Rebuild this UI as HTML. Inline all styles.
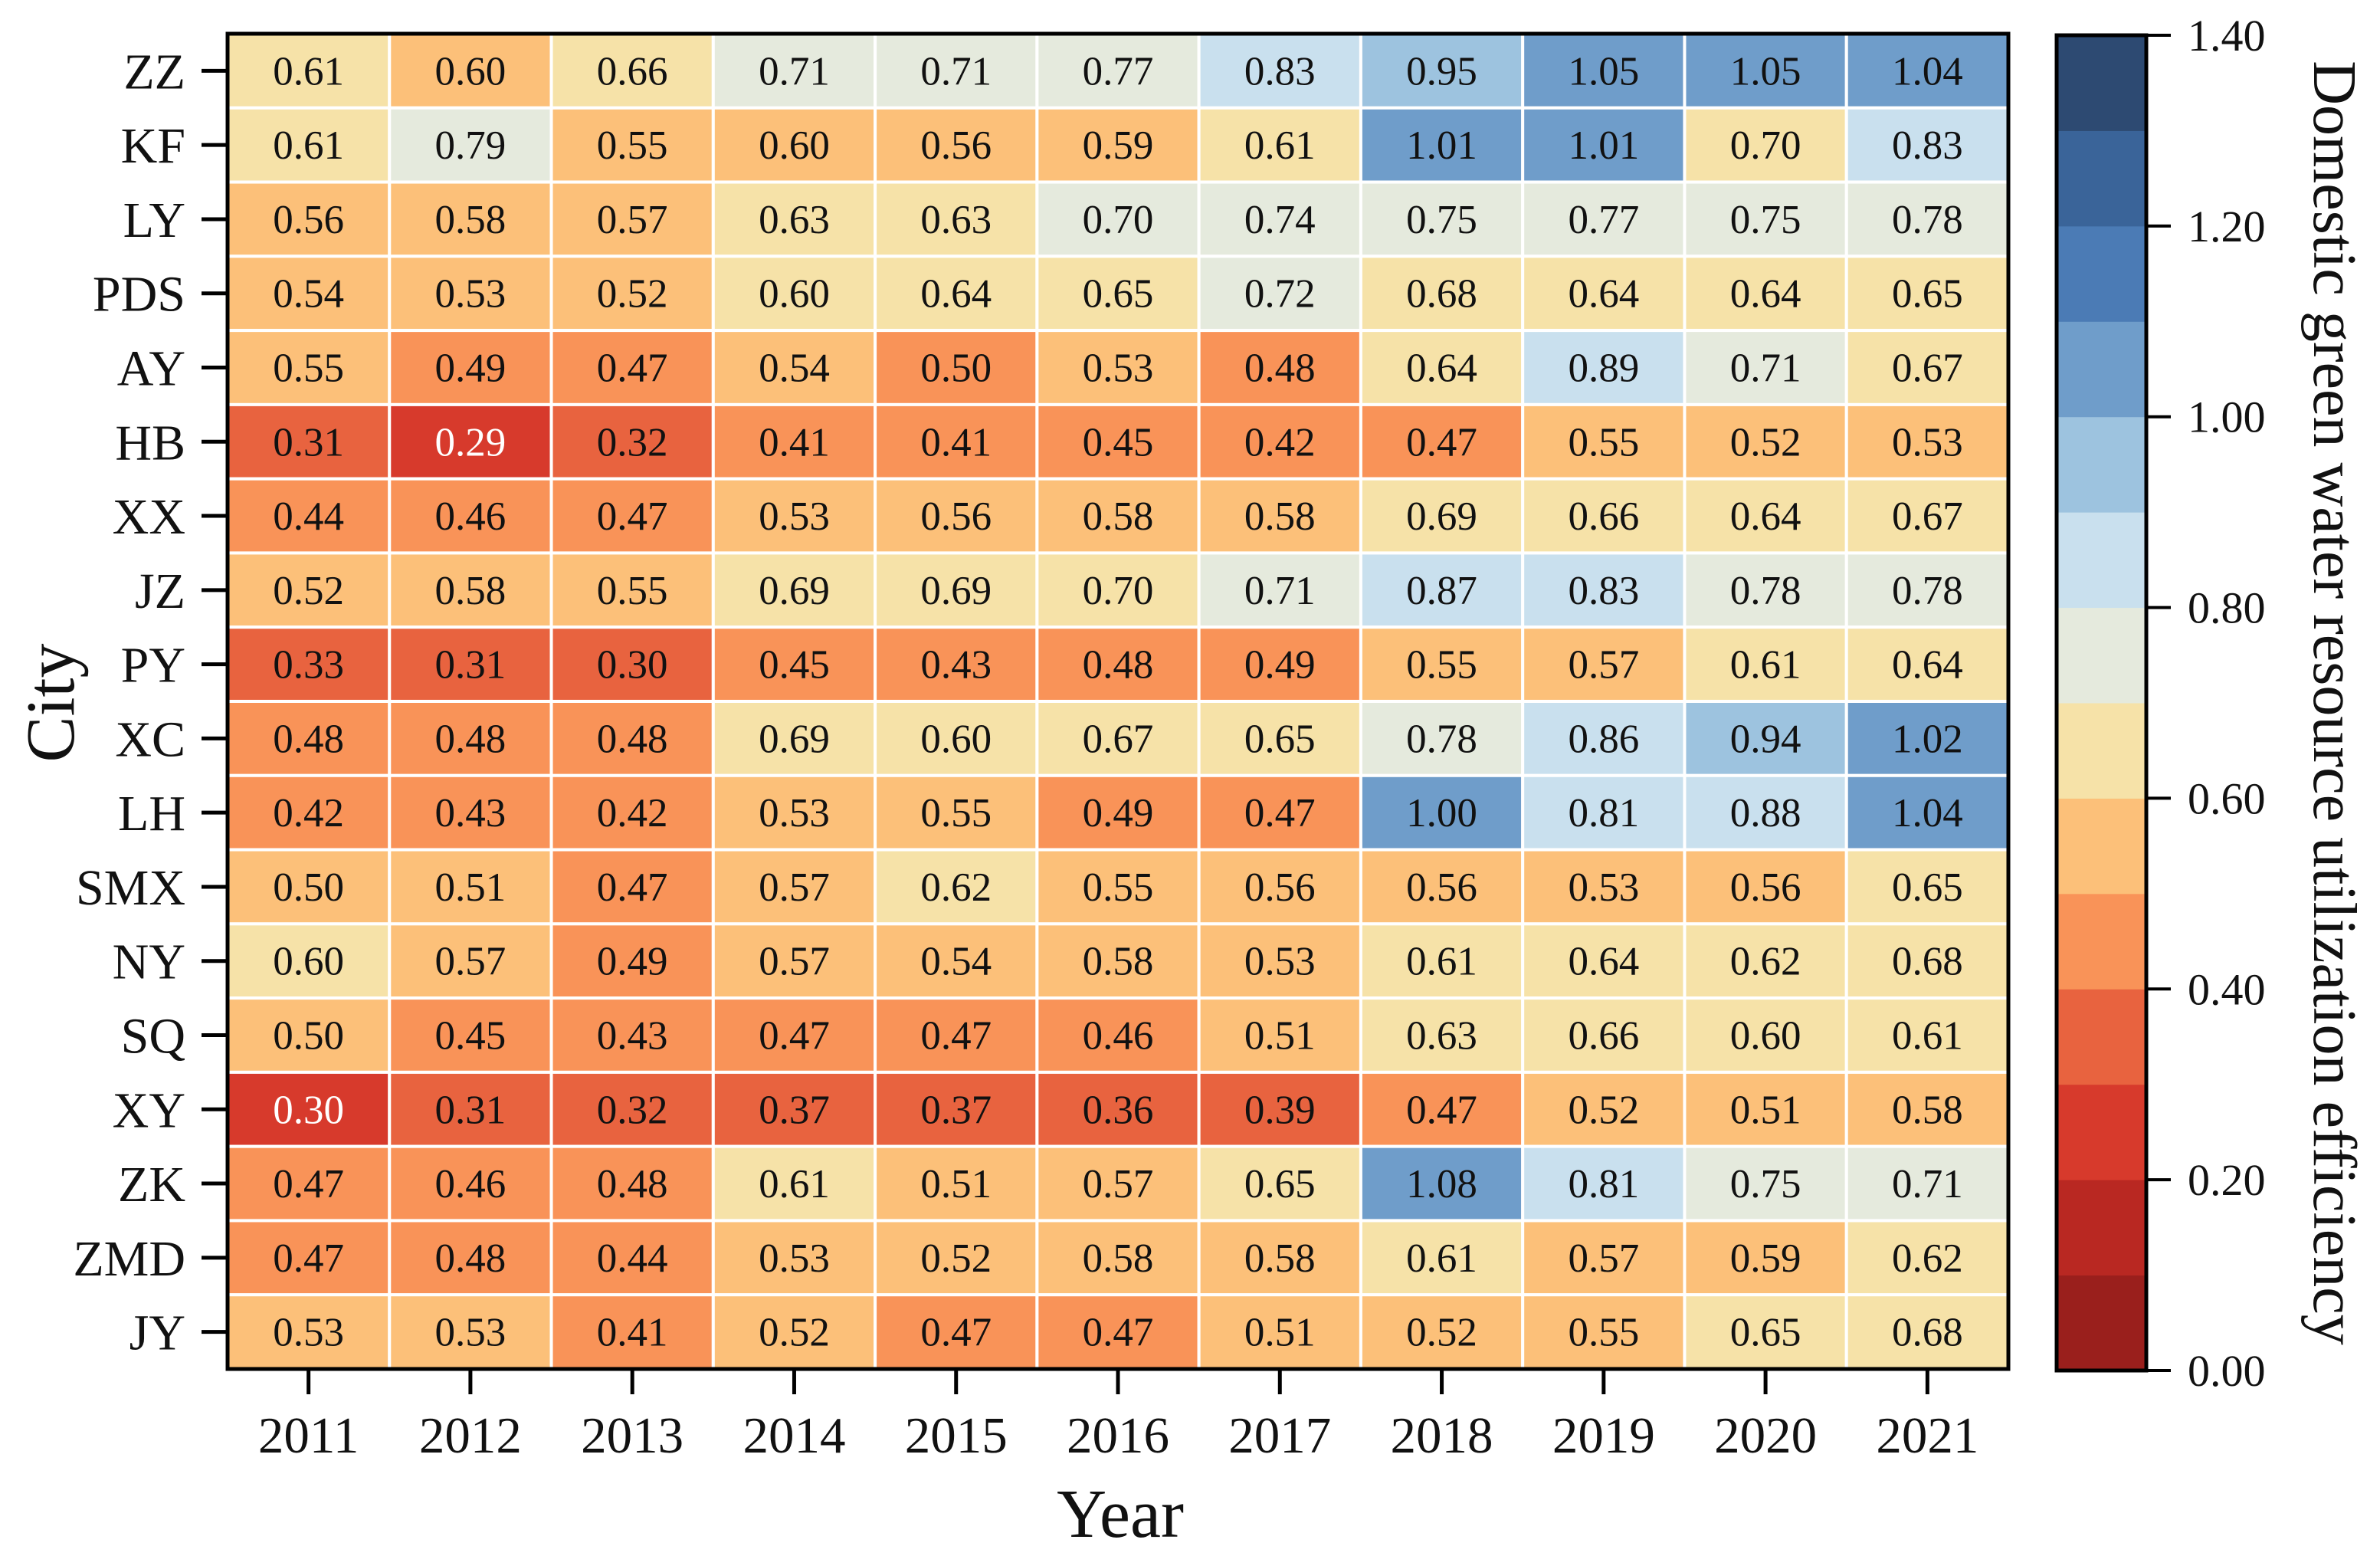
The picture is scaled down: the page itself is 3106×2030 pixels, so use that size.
<!DOCTYPE html>
<html><head><meta charset="utf-8">
<style>
html,body{margin:0;padding:0;background:#fff;}
svg{display:block;font-family:"Liberation Serif","Times New Roman",serif;}
</style></head>
<body>
<svg id="chart" width="3106" height="2030" viewBox="0 0 3106 2030" xmlns="http://www.w3.org/2000/svg">
<g id="cells"></g>
<g id="axes"></g>
<g id="cbar"></g>
</svg>
<script>
const cities = ["ZZ","KF","LY","PDS","AY","HB","XX","JZ","PY","XC","LH","SMX","NY","SQ","XY","ZK","ZMD","JY"];
const years = ["2011","2012","2013","2014","2015","2016","2017","2018","2019","2020","2021"];
const rowZZ  = [0.61,0.599,0.66,0.71,0.71,0.77,0.83,0.95,1.05,1.05,1.04];
const rowKF  = [0.61,0.79,0.55,0.598,0.56,0.59,0.61,1.01,1.01,0.699,0.83];
const rowLY  = [0.56,0.58,0.57,0.63,0.63,0.70,0.74,0.75,0.77,0.75,0.78];
const rowPDS = [0.54,0.53,0.52,0.60,0.64,0.65,0.72,0.68,0.64,0.64,0.65];
const rowAY  = [0.55,0.49,0.47,0.54,0.499,0.53,0.48,0.64,0.89,0.71,0.67];
const rowHB  = [0.31,0.29,0.32,0.41,0.41,0.45,0.42,0.47,0.55,0.52,0.53];
const rowXX  = [0.44,0.46,0.47,0.53,0.56,0.58,0.58,0.69,0.66,0.64,0.67];
const rowJZ  = [0.52,0.58,0.55,0.69,0.69,0.699,0.71,0.87,0.83,0.78,0.78];
const rowPY  = [0.33,0.31,0.30,0.45,0.43,0.48,0.49,0.55,0.57,0.61,0.64];
const rowXC  = [0.48,0.48,0.48,0.69,0.60,0.67,0.65,0.78,0.86,0.94,1.02];
const rowLH  = [0.42,0.43,0.42,0.53,0.55,0.49,0.47,1.00,0.81,0.88,1.04];
const rowSMX = [0.50,0.51,0.47,0.57,0.62,0.55,0.56,0.56,0.53,0.56,0.65];
const rowNY  = [0.60,0.57,0.49,0.57,0.54,0.58,0.53,0.61,0.64,0.62,0.68];
const rowSQ  = [0.50,0.45,0.43,0.47,0.47,0.46,0.51,0.63,0.66,0.60,0.61];
const rowXY  = [0.298,0.31,0.32,0.37,0.37,0.36,0.39,0.47,0.52,0.51,0.58];
const rowZK  = [0.47,0.46,0.48,0.61,0.51,0.57,0.65,1.08,0.81,0.75,0.71];
const rowZMD = [0.47,0.48,0.44,0.53,0.52,0.58,0.58,0.61,0.57,0.59,0.62];
const rowJY  = [0.53,0.53,0.41,0.52,0.47,0.47,0.51,0.52,0.55,0.65,0.68];
const values = [rowZZ,rowKF,rowLY,rowPDS,rowAY,rowHB,rowXX,rowJZ,rowPY,rowXC,rowLH,rowSMX,rowNY,rowSQ,rowXY,rowZK,rowZMD,rowJY];
const cbarTicks = [0,0.2,0.4,0.6,0.8,1.0,1.2,1.4];
const palette = ["#9a1f1c","#b92822","#d73a2c","#e8633f","#f99358","#fcc079","#f6e2a8","#e5eadd","#c9e0ee","#9dc3df","#6f9dca","#4b7bb5","#3a6499","#2d4a72"];

const NS="http://www.w3.org/2000/svg";
const L=297,R=2621,T=44,B=1786;
const cw=(R-L)/years.length, ch=(B-T)/cities.length;
const xPos=i=>L+i*cw, yPos=j=>T+j*ch;
const CB={x0:2684,x1:2801,y0:46,y1:1788,vmin:0,vmax:1.4};
const cbY=v=>CB.y1-(v-CB.vmin)/(CB.vmax-CB.vmin)*(CB.y1-CB.y0);
function color(v){let k=Math.floor(v/0.1+1e-9);k=Math.max(0,Math.min(palette.length-1,k));return palette[k];}
function mk(tag,attrs,parent,text){const e=document.createElementNS(NS,tag);for(const k in attrs)e.setAttribute(k,attrs[k]);if(text!==undefined)e.textContent=text;parent.appendChild(e);return e;}

const gc=document.getElementById('cells');
values.forEach((row,j)=>row.forEach((v,i)=>{
  const r=mk('rect',{x:xPos(i),y:yPos(j),width:cw,height:ch,fill:color(v),stroke:'#fff','stroke-width':4},gc);
  
  
  const t=mk('text',{x:xPos(i)+cw/2,y:yPos(j)+ch/2+18,'text-anchor':'middle','font-size':53,fill:v<0.3?'#fff':'#111'},gc,v.toFixed(2));
  
  
}));

const ga=document.getElementById('axes');
const fr=mk('rect',{x:L,y:T,width:R-L,height:B-T,fill:'none',stroke:'#000','stroke-width':5},ga);


cities.forEach((c,j)=>{
  const y=yPos(j)+ch/2;
  mk('line',{x1:263,x2:L,y1:y,y2:y,stroke:'#000','stroke-width':5},ga);
  const t=mk('text',{x:242,y:y+23,'text-anchor':'end','font-size':66,fill:'#111'},ga,c);
  
  
});
years.forEach((yr,i)=>{
  const x=xPos(i)+cw/2;
  mk('line',{x1:x,x2:x,y1:B,y2:B+33,stroke:'#000','stroke-width':5},ga);
  const t=mk('text',{x:x,y:1895,'text-anchor':'middle','font-size':67,fill:'#111'},ga,yr);
  
  
});
const xt=mk('text',{x:1462,y:2005,'text-anchor':'middle','font-size':90,fill:'#111'},ga,'Year');


const yt=mk('text',{x:0,y:0,'text-anchor':'middle','font-size':90,fill:'#111',transform:'translate(96,917) rotate(-90)'},ga,'City');



const gb=document.getElementById('cbar');
palette.forEach((c,k)=>{
  const v0=k*0.1,v1=(k+1)*0.1;
  const r=mk('rect',{x:CB.x0,y:cbY(v1),width:CB.x1-CB.x0,height:cbY(v0)-cbY(v1)+0.5,fill:c},gb);
  
  
});
const cf=mk('rect',{x:CB.x0,y:CB.y0,width:CB.x1-CB.x0,height:CB.y1-CB.y0,fill:'none',stroke:'#000','stroke-width':5},gb);


cbarTicks.forEach(v=>{
  const y=cbY(v);
  mk('line',{x1:CB.x1,x2:2833,y1:y,y2:y,stroke:'#000','stroke-width':4},gb);
  const t=mk('text',{x:2855,y:y+20,'font-size':58,fill:'#111'},gb,v.toFixed(2));
  
  
});
const ct=mk('text',{x:0,y:0,'text-anchor':'middle','font-size':80,fill:'#111',transform:'translate(3020,917) rotate(90)'},gb,'Domestic green water resource utilization efficiency');


</script>
</body></html>
